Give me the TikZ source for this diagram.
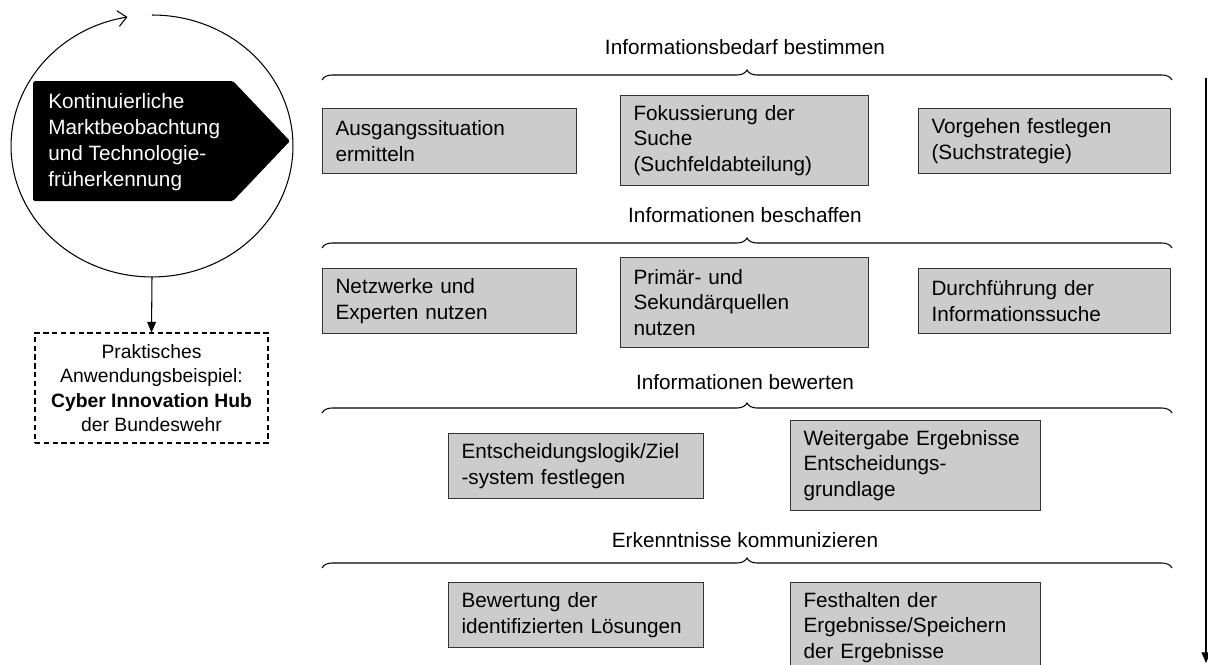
\documentclass[tikz,border=0pt]{standalone}
\usepackage{fontspec}
\setmainfont{Liberation Sans}
\usepackage{tikz}
\usetikzlibrary{arrows.meta,decorations.pathreplacing}

\newcommand{\boxfont}{\fontsize{11.8}{14.5}\selectfont}
\newcommand{\signfont}{\fontsize{11.8}{14.8}\selectfont}
\newcommand{\notefont}{\fontsize{11}{13.8}\selectfont}

\tikzset{
  stepbox/.style={draw=black!80, fill=gray!40, line width=0.6pt, anchor=north west,
    align=left, inner xsep=0.26cm, inner ysep=0pt, font=\boxfont},
  phase/.style={font=\boxfont, inner sep=0pt},
  phasebrace/.style={decorate, decoration={brace, amplitude=0.2cm}, line width=0.6pt},
  flow/.style={line width=0.6pt, -{Triangle[length=6pt,width=5pt]}}
}

\begin{document}
\begin{tikzpicture}[x=0.02cm, y=-0.02cm]

\clip (0,0) rectangle (1208,664);

\draw[line width=0.6pt, -{Straight Barb[length=5pt,width=9pt]}] (152,15)
  arc[start angle=90, end angle=-260, x radius=2.82cm, y radius=2.62cm];
\fill[black, rounded corners=1pt] (33,81) -- (233,81) -- (290,141) -- (233,201) -- (33,201) -- cycle;
\node (monitor) [anchor=west, text=white, align=left, font=\signfont, inner sep=0pt] at (48,142)
  {Kontinuierliche\\Marktbeobachtung\\und Technologie-\\früherkennung};
\coordinate (cyclebottom) at (152,277);
\node (example) [draw, dash pattern=on 3pt off 2pt, line width=0.6pt, align=center, font=\notefont,
  minimum width=4.66cm, minimum height=2.2cm] at (151.5,388)
  {Praktisches\\Anwendungsbeispiel:\\\textbf{Cyber Innovation Hub}\\der Bundeswehr};
\draw[flow] (cyclebottom) -- (example.north);

\node (t1) [phase] at (745,47) {Informationsbedarf bestimmen};
\draw[phasebrace] (322,80) -- (1172,80);
\node (a1) [stepbox, text width=4.56cm, minimum height=1.3cm] at (322,108) {Ausgangssituation\\ermitteln};
\node (b1) [stepbox, text width=4.44cm, minimum height=1.8cm] at (620,95) {Fokussierung der\\Suche\\(Suchfeldabteilung)};
\node (c1) [stepbox, text width=4.52cm, minimum height=1.3cm] at (918,108) {Vorgehen festlegen\\(Suchstrategie)};

\node (t2) [phase] at (745,215) {Informationen beschaffen};
\draw[phasebrace] (322,248) -- (1172,248);
\node (a2) [stepbox, text width=4.56cm, minimum height=1.3cm] at (322,268) {Netzwerke und\\Experten nutzen};
\node (b2) [stepbox, text width=4.44cm, minimum height=1.8cm] at (620,257) {Primär- und\\Sekundärquellen\\nutzen};
\node (c2) [stepbox, text width=4.52cm, minimum height=1.3cm] at (918,268) {Durchführung der\\Informationssuche};

\node (t3) [phase] at (745,382) {Informationen bewerten};
\draw[phasebrace] (322,413) -- (1172,413);
\node (a3) [stepbox, text width=4.58cm, minimum height=1.3cm] at (448,433) {Entscheidungslogik/Ziel\\-system festlegen};
\node (b3) [stepbox, text width=4.48cm, minimum height=1.8cm] at (790,420) {Weitergabe Ergebnisse\\Entscheidungs-\\grundlage};

\node (t4) [phase] at (745,540) {Erkenntnisse kommunizieren};
\draw[phasebrace] (322,568) -- (1172,568);
\node (a4) [stepbox, text width=4.58cm, minimum height=1.3cm] at (448,582) {Bewertung der\\identifizierten Lösungen};
\node (b4) [stepbox, text width=4.48cm, minimum height=1.8cm] at (790,582) {Festhalten der\\Ergebnisse/Speichern\\der Ergebnisse};

\coordinate (flowtop) at (1206,78);
\coordinate (flowend) at (1206,663);
\draw[flow] (flowtop) -- (flowend);

\end{tikzpicture}
\end{document}
